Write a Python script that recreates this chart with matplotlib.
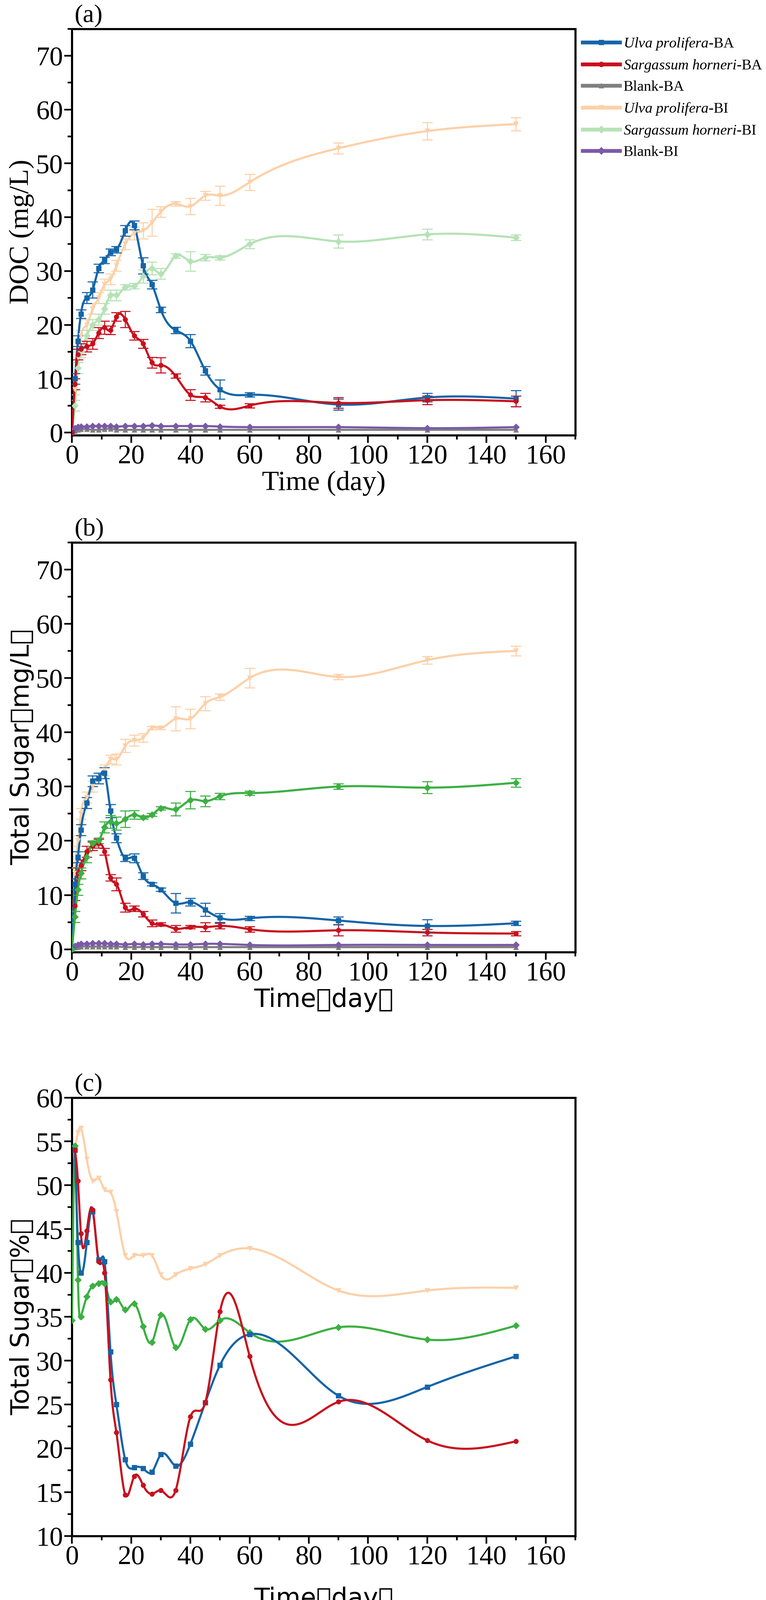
import numpy as np
import matplotlib
matplotlib.use("Agg")
import matplotlib.pyplot as plt

plt.rcParams["font.family"] = ["Liberation Serif", "Noto Sans CJK SC"]
plt.rcParams["mathtext.fontset"] = "custom"
plt.rcParams["mathtext.it"] = "Liberation Serif:italic"
plt.rcParams["mathtext.rm"] = "Liberation Serif"

# ==========================
# DATA
# ==========================
days = [0, 1, 2, 3, 5, 7, 9, 11, 13, 15, 18, 21, 24, 27, 30, 35, 40, 45, 50, 60, 90, 120, 150]

# (a) DOC mg/L
doc_up_ba = [0, 10, 17, 22, 25, 26.5, 30.5, 32, 33.5, 34, 37.5, 38.5, 31, 27.5, 22.8, 19, 17, 11.5, 8, 7, 5.2, 6.5, 6.3]
doc_up_ba_err = [0, 1, 1, 0.8, 1, 1.5, 0.8, 0.6, 0.6, 0.6, 1, 0.8, 1.5, 0.8, 0.5, 0.6, 1.2, 0.8, 1.8, 0.4, 1, 0.8, 1.5]
doc_sh_ba = [0, 9, 14.5, 15.5, 16, 16.5, 18.5, 19.5, 19, 21.5, 21, 18, 16.5, 13, 12.5, 10.5, 7, 6.5, 4.8, 5, 5.5, 6, 5.8]
doc_sh_ba_err = [0, 1, 1, 1, 1, 1, 1, 1.2, 0.8, 0.8, 1.5, 0.8, 0.8, 1, 1.4, 0.4, 1, 0.8, 0.3, 0.4, 1, 0.8, 1]
doc_bl_ba = [0, 0.3, 0.5, 0.6, 0.6, 0.5, 0.5, 0.6, 0.7, 0.5, 0.5, 0.5, 0.5, 0.5, 0.5, 0.5, 0.5, 0.5, 0.5, 0.5, 0.5, 0.5, 0.5]
doc_up_bi = [0, 8, 14, 18, 20, 23, 25, 27.5, 28.5, 31, 35, 37, 37.5, 39, 41, 42.5, 42, 44, 44, 46.5, 52.8, 56, 57.3]
doc_up_bi_err = [0, 1, 1, 1, 1, 1, 1, 1, 1, 1, 1, 1.2, 1.5, 2.5, 1, 0.4, 1.5, 0.8, 1.8, 1.5, 1, 1.6, 1.2]
doc_sh_bi = [0, 5, 12, 15, 18, 20, 21, 23, 25.5, 25.5, 27, 27.2, 29, 30.5, 29.5, 32.8, 31.8, 32.5, 32.5, 35, 35.5, 36.8, 36.2]
doc_sh_bi_err = [0, 1, 1, 1, 1, 1, 1, 1, 1, 1, 0.5, 0.5, 1.2, 1.2, 1, 0.4, 1.8, 0.6, 0.4, 0.8, 1.2, 1, 0.5]
doc_bl_bi = [0, 0.8, 1, 1.1, 1.1, 1.2, 1.2, 1.2, 1.2, 1.1, 1.2, 1.2, 1.2, 1.3, 1.2, 1.2, 1.2, 1.2, 1.1, 1.0, 1.0, 0.8, 1.0]

# (b) Total sugar mg/L
ts_up_ba = [0, 12, 17, 22, 27, 31, 31.5, 32.5, 25.5, 20.5, 16.8, 16.8, 13.5, 12, 11, 8.5, 8.7, 7.3, 5.8, 5.7, 5.3, 4.3, 4.8]
ts_up_ba_err = [0, 1, 1, 1, 1, 1, 1, 1, 1.2, 0.8, 0.6, 0.8, 0.6, 0.3, 0.3, 1.8, 0.7, 1.2, 0.8, 0.4, 0.7, 1.2, 0.4]
ts_sh_ba = [0, 8, 14, 15.5, 18, 19, 19.5, 18, 13.2, 12, 7.7, 7.5, 6.5, 4.8, 4.6, 3.8, 4.1, 4.1, 4.3, 3.7, 3.5, 3.1, 2.9]
ts_sh_ba_err = [0, 1, 1, 1, 1, 0.8, 0.8, 0.6, 0.6, 1.2, 0.8, 0.5, 0.5, 0.6, 0.3, 0.6, 0.3, 0.8, 0.5, 0.5, 1, 0.6, 0.4]
ts_bl_ba = [0, 0.3, 0.4, 0.5, 0.5, 0.5, 0.5, 0.5, 0.5, 0.5, 0.4, 0.4, 0.4, 0.4, 0.4, 0.4, 0.4, 0.4, 0.4, 0.4, 0.4, 0.4, 0.4]
ts_up_bi = [0, 14, 20, 25, 28, 30, 31.5, 33, 35, 35, 37.5, 38.5, 39, 40.8, 40.8, 42.5, 42.5, 45.3, 46.5, 50, 50.2, 53.3, 55]
ts_up_bi_err = [0, 1, 1, 1, 1, 1, 1, 1, 0.8, 1, 1.2, 1, 0.8, 0.3, 0.3, 2.2, 1.8, 1.3, 0.6, 1.8, 0.5, 0.7, 0.9]
ts_sh_bi = [0, 6, 11, 14, 17, 19.5, 20, 22.5, 23.5, 23.2, 24, 24.8, 24.3, 24.8, 26, 25.8, 27.5, 27.3, 28.2, 28.8, 30, 29.8, 30.7]
ts_sh_bi_err = [0, 1, 1, 1, 1, 0.5, 0.5, 1, 1.2, 1.2, 1.5, 0.8, 0.3, 0.3, 0.3, 1.2, 1.6, 1, 0.6, 0.4, 0.5, 1.1, 0.8]
ts_bl_bi = [0, 0.6, 0.8, 1, 1, 1.1, 1.1, 1.1, 1, 1, 0.9, 1, 0.9, 1, 1, 0.9, 0.9, 1, 1, 0.8, 0.8, 0.8, 0.8]

# (c) Total sugar %
days_c = [1, 2, 3, 5, 7, 9, 11, 13, 15, 18, 21, 24, 27, 30, 35, 40, 45, 50, 60, 90, 120, 150]
pc_up_ba = [54, 43.5, 40, 43.5, 47, 41.5, 41.3, 31, 25, 18.7, 17.8, 17.7, 17.3, 19.3, 18, 20.5, 25.2, 29.5, 33, 26, 27, 30.5]
pc_sh_ba = [54, 50.5, 44.5, 44.8, 47.2, 41.3, 40, 27.8, 21.8, 14.7, 16.8, 15.8, 14.8, 15.2, 15.2, 23.6, 25.2, 35.6, 30.5, 25.3, 20.9, 20.8]
pc_up_bi = [54, 56, 56.5, 53, 50.5, 50.8, 49.5, 49.2, 47, 42, 42, 42, 42, 39.8, 39.8, 40.5, 41, 42, 42.8, 38, 38, 38.3]
days_c_sh_bi = [0, 1, 2, 3, 5, 7, 9, 11, 13, 15, 18, 21, 24, 27, 30, 35, 40, 45, 50, 60, 90, 120, 150]
pc_sh_bi = [34.6, 54.5, 39.2, 35, 37.3, 38.5, 38.8, 38.8, 36.7, 37, 35.8, 36.5, 33.9, 32.1, 35.2, 31.5, 34.7, 33.6, 34.6, 33.2, 33.8, 32.4, 34]

labels = [r"$\it{Ulva\ prolifera}$-BA", r"$\it{Sargassum\ horneri}$-BA", "Blank-BA",
          r"$\it{Ulva\ prolifera}$-BI", r"$\it{Sargassum\ horneri}$-BI", "Blank-BI"]
colors = ["#1565a8", "#c8101e", "#808080", "#fdd0a8", "#b6e2b6", "#7a5aa6"]
green_dark = "#3cb043"
markers = ["s", "o", "^", "v", "D", "D"]
CJK = "Noto Sans CJK SC"


def spline(x, y, n=600):
    # natural cubic spline, like Origin's smooth connect
    x = np.asarray(x, float)
    y = np.asarray(y, float)
    h = np.diff(x)
    m = len(x)
    A = np.zeros((m, m))
    b = np.zeros(m)
    A[0, 0] = A[-1, -1] = 1
    for i in range(1, m - 1):
        A[i, i - 1] = h[i - 1]
        A[i, i] = 2 * (h[i - 1] + h[i])
        A[i, i + 1] = h[i]
        b[i] = 3 * ((y[i + 1] - y[i]) / h[i] - (y[i] - y[i - 1]) / h[i - 1])
    c = np.linalg.solve(A, b)
    xs = np.linspace(x[0], x[-1], n)
    idx = np.clip(np.searchsorted(x, xs) - 1, 0, m - 2)
    dx = xs - x[idx]
    hi = h[idx]
    bb = (y[idx + 1] - y[idx]) / hi - hi * (2 * c[idx] + c[idx + 1]) / 3
    dd = (c[idx + 1] - c[idx]) / (3 * hi)
    ys = y[idx] + bb * dx + c[idx] * dx ** 2 + dd * dx ** 3
    return xs, ys


def draw(ax, x, y, color, marker, err=None):
    xs, ys = spline(x, y)
    ax.plot(xs, ys, color=color, lw=5, zorder=3)
    if err is not None:
        ax.errorbar(x, y, yerr=err, fmt="none", ecolor=color, elinewidth=2.5, capsize=12, capthick=2.5, zorder=3)
    ax.plot(x, y, ls="none", marker=marker, ms=11, color=color, zorder=4)


def style(ax, ylim, yticks, minor):
    ax.set_xlim(0, 170)
    ax.set_ylim(*ylim)
    ax.set_xticks(range(0, 161, 20))
    ax.set_xticks(range(10, 171, 20), minor=True)
    ax.set_yticks(yticks)
    ax.set_yticks(minor, minor=True)
    for s in ax.spines.values():
        s.set_linewidth(5)
    ax.tick_params(which="major", direction="out", length=18, width=4, labelsize=64)
    ax.tick_params(which="minor", direction="out", length=10, width=4)


fig = plt.figure(figsize=(25.15, 52.53), dpi=100)
L, W = 0.094, 0.657
ax_a = fig.add_axes([L, 0.728, W, 0.254])
ax_b = fig.add_axes([L, 0.405, W, 0.256])
ax_c = fig.add_axes([L, 0.040, W, 0.274])

# (a)
a_series = [(doc_up_ba, doc_up_ba_err), (doc_sh_ba, doc_sh_ba_err), (doc_bl_ba, None),
            (doc_up_bi, doc_up_bi_err), (doc_sh_bi, doc_sh_bi_err), (doc_bl_bi, None)]
for i in [3, 4, 2, 5, 0, 1]:
    vals, err = a_series[i]
    draw(ax_a, days, vals, colors[i], markers[i], err)
for i in range(6):
    ax_a.plot([], [], color=colors[i], lw=9, marker=markers[i], ms=12, label=labels[i])
style(ax_a, (-0.5, 75), range(0, 71, 10), range(5, 76, 10))
ax_a.set_ylabel("DOC (mg/L)", fontsize=66)
ax_a.set_xlabel("Time (day)", fontsize=66)
ax_a.legend(loc="upper left", bbox_to_anchor=(1.0, 1.0), frameon=False, fontsize=35,
            handlelength=2.5, handletextpad=0.25, labelspacing=0.5, borderaxespad=0.1)
ax_a.text(0.005, 1.003, "(a)", transform=ax_a.transAxes, fontsize=60, va="bottom")

# (b)
b_series = [(ts_up_ba, ts_up_ba_err, colors[0]), (ts_sh_ba, ts_sh_ba_err, colors[1]), (ts_bl_ba, None, colors[2]),
            (ts_up_bi, ts_up_bi_err, colors[3]), (ts_sh_bi, ts_sh_bi_err, green_dark), (ts_bl_bi, None, colors[5])]
for i in [3, 2, 5, 1, 0, 4]:
    vals, err, col = b_series[i]
    draw(ax_b, days, vals, col, markers[i], err)
style(ax_b, (-0.5, 75), range(0, 71, 10), range(5, 76, 10))
ax_b.set_ylabel("Total Sugar（mg/L）", fontsize=60, family=CJK)
ax_b.set_xlabel("Time（day）", fontsize=60, family=CJK)
ax_b.text(0.005, 1.003, "(b)", transform=ax_b.transAxes, fontsize=60, va="bottom")

# (c)
draw(ax_c, days_c, pc_up_bi, colors[3], markers[3])
draw(ax_c, days_c_sh_bi, pc_sh_bi, green_dark, markers[4])
draw(ax_c, days_c, pc_up_ba, colors[0], markers[0])
draw(ax_c, days_c, pc_sh_ba, colors[1], markers[1])
style(ax_c, (10, 60), range(10, 61, 5), np.arange(12.5, 60, 5))
ax_c.set_ylabel("Total Sugar（%）", fontsize=60, family=CJK)
ax_c.set_xlabel("Time（day）", fontsize=60, family=CJK, labelpad=40)
ax_c.text(0.005, 1.003, "(c)", transform=ax_c.transAxes, fontsize=60, va="bottom")

plt.savefig("out.png", dpi=100)
plt.close()
